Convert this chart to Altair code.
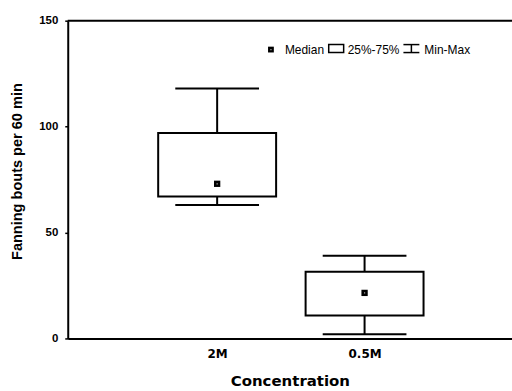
import altair as alt
import pandas as pd

categories = ["2M", "0.5M"]
positions = [1, 2]
minimum = [63, 2]
q1 = [67, 10.8]
median = [73, 21.5]
q3 = [97, 31.5]
maximum = [118, 39]

df = pd.DataFrame({
    "cat": categories, "pos": positions, "min": minimum, "q1": q1,
    "median": median, "q3": q3, "max": maximum,
})

W, H = 446, 319
FONT = "Liberation Sans"
WIDE = "DejaVu Sans"
LW = 2

xscale = alt.Scale(domain=[-0.0135, 3], nice=False, zero=False)
yscale = alt.Scale(domain=[0, 150], nice=False)

base = alt.Chart(df).transform_calculate(
    bl="datum.pos - 0.4", br="datum.pos + 0.4",
    cl="datum.pos - 0.284", cr="datum.pos + 0.284",
)

xaxis = alt.Axis(values=[1, 2], labelExpr="datum.value == 1 ? '2M' : '0.5M'",
                 title="Concentration", grid=False, ticks=False,
                 labelFont=WIDE, labelFontSize=12, labelFontWeight="bold",
                 labelColor="black", labelPadding=10, domainColor="black",
                 domainWidth=LW,
                 titleFont=WIDE, titleFontSize=15, titleFontWeight="bold",
                 titleColor="black", titleY=42, titleBaseline="middle")
yaxis = alt.Axis(values=[0, 50, 100, 150], title="Fanning bouts per 60 min",
                 grid=False, tickSize=3, tickColor="black", tickWidth=1.5,
                 domainColor="black", domainWidth=LW, labelFont=FONT,
                 labelFontSize=11.5, labelFontWeight="bold", labelColor="black",
                 labelPadding=7,
                 titleFont=FONT, titleFontSize=14.6, titleFontWeight="bold",
                 titleColor="black", titleX=-50, titleY=151, titleBaseline="middle")

whisker_lo = base.mark_rule(color="black", strokeWidth=LW).encode(
    x=alt.X("pos:Q", scale=xscale, axis=xaxis),
    y=alt.Y("min:Q", scale=yscale, axis=yaxis), y2="q1:Q")
whisker_hi = base.mark_rule(color="black", strokeWidth=LW).encode(
    x="pos:Q", y="q3:Q", y2="max:Q")
cap_lo = base.mark_rule(color="black", strokeWidth=LW).encode(
    x="cl:Q", x2="cr:Q", y="min:Q")
cap_hi = base.mark_rule(color="black", strokeWidth=LW).encode(
    x="cl:Q", x2="cr:Q", y="max:Q")
box = base.mark_rect(fill="white", stroke="black", strokeWidth=LW).encode(
    x="bl:Q", x2="br:Q", y="q1:Q", y2="q3:Q")
med = base.mark_square(color="black", filled=True, size=40, opacity=1).encode(
    x="pos:Q", y="median:Q")
med_in = base.mark_square(color="#aaaaaa", filled=True, size=1.5, opacity=1).encode(
    x="pos:Q", y="median:Q")

one = alt.Chart(pd.DataFrame({"a": [0]}))
top_line = one.mark_rule(color="black", strokeWidth=LW).encode(
    x=alt.value(0), x2=alt.value(W), y=alt.value(0))

LY = 29
lg_sq = one.mark_square(color="black", filled=True, size=34, opacity=1).encode(
    x=alt.value(204), y=alt.value(LY))
lg_sq_in = one.mark_square(color="#aaaaaa", filled=True, size=1.5, opacity=1).encode(
    x=alt.value(204), y=alt.value(LY))
lg_t1 = one.mark_text(text="Median", align="left", baseline="middle",
                      font=FONT, fontSize=12, color="black").encode(
    x=alt.value(218), y=alt.value(LY + 0.5))
lg_box = one.mark_rect(fill="white", stroke="black", strokeWidth=1.5).encode(
    x=alt.value(262), x2=alt.value(277), y=alt.value(LY - 5), y2=alt.value(LY + 3))
lg_t2 = one.mark_text(text="25%-75%", align="left", baseline="middle",
                      font=FONT, fontSize=12, color="black").encode(
    x=alt.value(281), y=alt.value(LY + 0.5))
lg_i1 = one.mark_rule(color="black", strokeWidth=1.5).encode(
    x=alt.value(337), x2=alt.value(353), y=alt.value(LY - 5))
lg_i2 = one.mark_rule(color="black", strokeWidth=1.5).encode(
    x=alt.value(337), x2=alt.value(353), y=alt.value(LY + 3))
lg_i3 = one.mark_rule(color="black", strokeWidth=1.5).encode(
    x=alt.value(345), y=alt.value(LY - 5), y2=alt.value(LY + 3))
lg_t3 = one.mark_text(text="Min-Max", align="left", baseline="middle",
                      font=FONT, fontSize=12, color="black").encode(
    x=alt.value(358), y=alt.value(LY + 0.5))

chart = alt.layer(
    whisker_lo, whisker_hi, cap_lo, cap_hi, box, med, med_in, top_line,
    lg_sq, lg_sq_in, lg_t1, lg_box, lg_t2, lg_i1, lg_i2, lg_i3, lg_t3,
).properties(
    width=W, height=H,
    autosize=alt.AutoSizeParams(type="none"),
    padding={"left": 68, "top": 20, "right": 0, "bottom": 52},
    background="white",
).configure_view(stroke=None)

chart.save("out.html", embed_options={"renderer": "svg", "actions": False})
